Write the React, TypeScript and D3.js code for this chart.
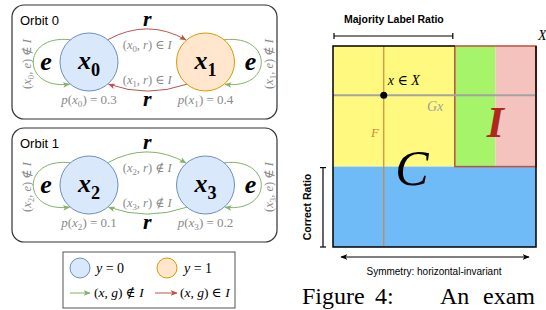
import React from 'react';
import * as d3 from 'd3';

// ---- data ----
const orbitNames = ['Orbit 0', 'Orbit 1'];
const nodeIds = ['0', '1', '2', '3'];
const nodeOrbit = [0, 0, 1, 1];
const nodeClass = [0, 1, 0, 0];
const nodeProb = [0.3, 0.4, 0.1, 0.2];
const rotInI = [true, true, false, false];   // (x_i, r) in I
const refInI = [false, false, false, false]; // (x_i, e) in I

// right panel regions, in unit coordinates (x: left->right, y: top->bottom)
const majorityCut = 0.6;
const invariantCut = 0.8;
const correctTop = 0.6;
const pointX = 0.25;
const pointY = 0.245;

const W = 546;
const H = 310;

const col = {
  blueFill: '#dae8fc', blueStroke: '#6c8ebf',
  orangeFill: '#ffe6cc', orangeStroke: '#d79b00',
  green: '#82b366', red: '#b85450', gray: '#8a8a8a',
  yellow: '#fffa7f', lime: '#a5f46a', pink: '#f4c3bd', sky: '#6fbbf8',
  border: '#c0503a', orbitF: '#d08838', Ired: '#b0281a'
};

const serif = "'Liberation Serif', 'DejaVu Serif', serif";
const sans = "'Liberation Sans', Arial, sans-serif";

type Seg = { t: string; i?: boolean; s?: boolean };

// text with italic parts and subscripts
const MathText = ({ x, y, segs, size, fill = '#000', anchor = 'middle', bold = false, transform }:
  { x: number; y: number; segs: Seg[]; size: number; fill?: string; anchor?: string; bold?: boolean; transform?: string }) => {
  let shifted = false;
  return (
    <text x={x} y={y} fontFamily={serif} fontSize={size} fill={fill} textAnchor={anchor}
      fontWeight={bold ? 'bold' : 'normal'} transform={transform}>
      {segs.map((s, k) => {
        let dy = 0;
        if (s.s && !shifted) { dy = size * 0.25; shifted = true; }
        else if (!s.s && shifted) { dy = -size * 0.25; shifted = false; }
        return (
          <tspan key={k} dy={dy || undefined} fontStyle={s.i ? 'italic' : 'normal'}
            fontSize={s.s ? size * 0.7 : size}>{s.t}</tspan>
        );
      })}
    </text>
  );
};

export default function App() {
  // left: orbit boxes
  const boxTop = d3.scaleLinear().domain([0, 1]).range([5, 128]);
  const nodeX = d3.scalePoint<number>().domain([0, 1]).range([89, 205.5]);
  const R = 29;
  const cy = (o: number) => boxTop(o) + 57;
  const rad = (a: number) => (a * Math.PI) / 180;

  const arcs: { d: string; color: string }[] = [];

  orbitNames.forEach((_, o) => {
    const ids = nodeIds.map((_, i) => i).filter(i => nodeOrbit[i] === o);
    const [a, b] = ids;
    const ax = nodeX(0)!, bx = nodeX(1)!, y = cy(o);
    const dx = R * Math.cos(rad(50)), dyy = R * Math.sin(rad(50));
    // top arc a -> b
    const p1 = d3.path();
    p1.moveTo(ax + dx, y - dyy);
    p1.quadraticCurveTo((ax + bx) / 2, y - 44, bx - dx - 1, y - dyy);
    arcs.push({ d: p1.toString(), color: rotInI[a] ? col.red : col.green });
    // bottom arc b -> a
    const p2 = d3.path();
    p2.moveTo(bx - dx, y + dyy);
    p2.quadraticCurveTo((ax + bx) / 2, y + 36, ax + dx + 1, y + dyy);
    arcs.push({ d: p2.toString(), color: rotInI[b] ? col.red : col.green });
    // self loops
    const l1 = d3.path();
    l1.moveTo(ax - dx, y - dyy);
    l1.bezierCurveTo(ax - 68, y - 28, ax - 68, y + 28, ax - dx - 1, y + dyy);
    arcs.push({ d: l1.toString(), color: refInI[a] ? col.red : col.green });
    const l2 = d3.path();
    l2.moveTo(bx + dx, y - dyy);
    l2.bezierCurveTo(bx + 68, y - 28, bx + 68, y + 28, bx + dx + 1, y + dyy);
    arcs.push({ d: l2.toString(), color: refInI[b] ? col.red : col.green });
  });

  // right panel scales
  const px = d3.scaleLinear().domain([0, 1]).range([333, 536]);
  const py = d3.scaleLinear().domain([0, 1]).range([46, 247]);

  const rects = [
    { x0: 0, x1: majorityCut, y0: 0, y1: correctTop, fill: col.yellow },
    { x0: majorityCut, x1: invariantCut, y0: 0, y1: correctTop, fill: col.lime },
    { x0: invariantCut, x1: 1, y0: 0, y1: correctTop, fill: col.pink },
    { x0: 0, x1: 1, y0: correctTop, y1: 1, fill: col.sky }
  ];

  return (
    <svg width={W} height={H} style={{ position: 'absolute', left: 0, top: 0, background: '#fff' }}>
      <defs>
        {[['g', col.green], ['r', col.red], ['k', '#000']].map(([k, c]) => (
          <marker key={k} id={`ar-${k}`} viewBox="0 0 10 10" refX="9" refY="5" markerWidth="7" markerHeight="7"
            markerUnits="userSpaceOnUse" orient="auto-start-reverse">
            <path d="M0,1 L10,5 L0,9 L2.5,5 Z" fill={c} />
          </marker>
        ))}
      </defs>

      {/* orbit boxes */}
      {orbitNames.map((name, o) => (
        <g key={name}>
          <rect x={12} y={boxTop(o)} width={265} height={114} rx={12} fill="none" stroke="#333" strokeWidth={1.2} />
          <text x={20} y={boxTop(o) + 20} fontFamily={sans} fontSize={13}>{name}</text>
        </g>
      ))}

      {arcs.map((a, k) => (
        <path key={k} d={a.d} fill="none" stroke={a.color} strokeWidth={1}
          markerEnd={`url(#ar-${a.color === col.red ? 'r' : 'g'})`} />
      ))}

      {nodeIds.map((id, i) => {
        const o = nodeOrbit[i];
        const side = i % 2;
        const x = nodeX(side)!, y = cy(o);
        const mid = (nodeX(0)! + nodeX(1)!) / 2;
        const inI = rotInI[i];
        return (
          <g key={id}>
            <circle cx={x} cy={y} r={R}
              fill={nodeClass[i] ? col.orangeFill : col.blueFill}
              stroke={nodeClass[i] ? col.orangeStroke : col.blueStroke} strokeWidth={1} />
            <MathText x={x} y={y + 7} size={26} bold segs={[{ t: 'x', i: true }, { t: id, s: true }]} />
            <MathText x={x} y={y + 42} size={13} fill={col.gray}
              segs={[{ t: 'p', i: true }, { t: '(' }, { t: 'x', i: true }, { t: id, s: true }, { t: ') = ' + nodeProb[i] }]} />
            <MathText x={mid} y={side === 0 ? y - 13 : y + 22} size={12.5} fill={col.gray}
              segs={[{ t: '(' }, { t: 'x', i: true }, { t: id, s: true }, { t: ', ' }, { t: 'r', i: true }, { t: inI ? ') ∈ ' : ') ∉ ' }, { t: 'I', i: true }]} />
            <MathText x={mid} y={side === 0 ? y - 36 : y + 44} size={22} bold segs={[{ t: 'r', i: true }]} />
            <MathText x={side === 0 ? x - 43 : x + 45} y={y + 8} size={26} bold segs={[{ t: 'e', i: true }]} />
            <MathText x={0} y={0} size={12.5} fill={col.gray}
              transform={`translate(${side === 0 ? x - 58 : x + 67},${y + 2}) rotate(-90)`}
              segs={[{ t: '(' }, { t: 'x', i: true }, { t: id, s: true }, { t: ', ' }, { t: 'e', i: true }, { t: refInI[i] ? ') ∈ ' : ') ∉ ' }, { t: 'I', i: true }]} />
          </g>
        );
      })}

      {/* legend */}
      <g>
        <rect x={63} y={252} width={172} height={56} fill="none" stroke="#555" strokeWidth={1} />
        <circle cx={80} cy={268} r={10} fill={col.blueFill} stroke={col.blueStroke} />
        <MathText x={96} y={273} size={14} anchor="start" segs={[{ t: 'y', i: true }, { t: ' = 0' }]} />
        <circle cx={167} cy={268} r={10} fill={col.orangeFill} stroke={col.orangeStroke} />
        <MathText x={184} y={273} size={14} anchor="start" segs={[{ t: 'y', i: true }, { t: ' = 1' }]} />
        <line x1={70} x2={90} y1={293} y2={293} stroke={col.green} markerEnd="url(#ar-g)" />
        <MathText x={94} y={297} size={13.5} anchor="start" segs={[{ t: '(' }, { t: 'x', i: true }, { t: ', ' }, { t: 'g', i: true }, { t: ') ∉ ' }, { t: 'I', i: true }]} />
        <line x1={155} x2={177} y1={293} y2={293} stroke={col.red} markerEnd="url(#ar-r)" />
        <MathText x={180} y={297} size={13.5} anchor="start" segs={[{ t: '(' }, { t: 'x', i: true }, { t: ', ' }, { t: 'g', i: true }, { t: ') ∈ ' }, { t: 'I', i: true }]} />
      </g>

      {/* right panel */}
      <text x={px(majorityCut / 2)} y={23} textAnchor="middle" fontFamily={sans} fontWeight="bold" fontSize={10.5}>Majority Label Ratio</text>
      <g stroke="#000" strokeWidth={1.2}>
        <line x1={px(0) + 1} x2={px(majorityCut) - 2} y1={36} y2={36} />
        <line x1={px(0) + 1} x2={px(0) + 1} y1={33} y2={39} />
        <line x1={px(majorityCut) - 2} x2={px(majorityCut) - 2} y1={33} y2={39} />
        <line x1={323} x2={323} y1={py(correctTop) + 1} y2={py(1)} />
        <line x1={320} x2={326} y1={py(correctTop) + 1} y2={py(correctTop) + 1} />
        <line x1={320} x2={326} y1={py(1)} y2={py(1)} />
        <line x1={341} x2={529} y1={257} y2={257} markerEnd="url(#ar-k)" markerStart="url(#ar-k)" />
      </g>
      <text x={538} y={40} fontFamily={serif} fontStyle="italic" fontSize={14}>X</text>

      {rects.map((r, k) => (
        <rect key={k} x={px(r.x0)} y={py(r.y0)} width={px(r.x1) - px(r.x0)} height={py(r.y1) - py(r.y0)} fill={r.fill} />
      ))}
      <rect x={px(majorityCut)} y={py(0)} width={px(1) - px(majorityCut)} height={py(correctTop) - py(0)}
        fill="none" stroke={col.border} strokeWidth={1.5} />
      <line x1={px(0)} x2={px(1)} y1={py(pointY)} y2={py(pointY)} stroke="#a3a3a3" strokeWidth={2} />
      <line x1={px(pointX)} x2={px(pointX)} y1={py(0)} y2={py(1)} stroke={col.orbitF} strokeWidth={1.2} />
      <path d={`M${px(majorityCut)},${py(0)} H${px(0)} V${py(1)} H${px(1)} V${py(0)}`} fill="none" stroke="#000" strokeWidth={1.5} />
      <circle cx={px(pointX)} cy={py(pointY)} r={3.5} fill="#000" />

      <MathText x={px(pointX) + 4} y={85} size={14} anchor="start" segs={[{ t: 'x', i: true }, { t: ' ∈ ' }, { t: 'X', i: true }]} />
      <MathText x={427} y={111} size={14} anchor="start" fill="#a0a0a0" segs={[{ t: 'Gx', i: true }]} />
      <MathText x={371} y={137} size={13} anchor="start" fill={col.orbitF} segs={[{ t: 'F', i: true }]} />
      <MathText x={px((majorityCut + 1) / 2)} y={137} size={44} bold fill={col.Ired} segs={[{ t: 'I', i: true }]} />
      <MathText x={412} y={185} size={50} segs={[{ t: 'C', i: true }]} />

      <text transform={`translate(311,207) rotate(-90)`} textAnchor="middle" fontFamily={sans} fontWeight="bold" fontSize={10.5}>Correct Ratio</text>
      <text x={434} y={275} textAnchor="middle" fontFamily={sans} fontSize={10}>Symmetry: horizontal-invariant</text>

      <g fontFamily={serif} fontSize={24}>
        <text x={302} y={304}>Figure</text>
        <text x={375} y={304}>4:</text>
        <text x={440} y={304}>An</text>
        <text x={483} y={304}>exam</text>
      </g>
    </svg>
  );
}
